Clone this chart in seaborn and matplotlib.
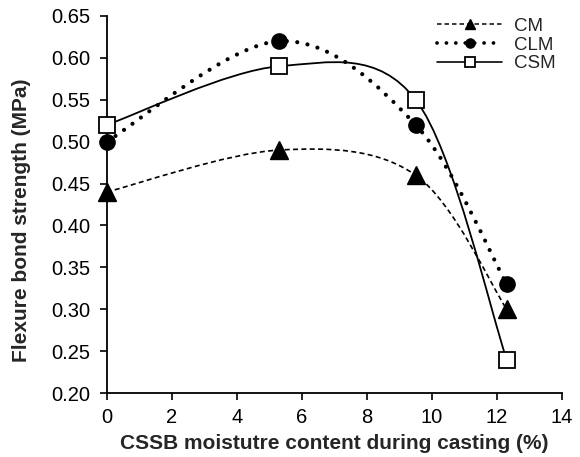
"""Flexure bond strength vs CSSB moisture content."""

import numpy as np
import matplotlib
matplotlib.use("Agg")
import matplotlib.pyplot as plt
import seaborn as sns
from matplotlib.path import Path
from matplotlib.patches import PathPatch
from matplotlib.lines import Line2D
from matplotlib.ticker import FormatStrFormatter

# data
moisture = [0, 5.3, 9.5, 12.3]
cm = [0.44, 0.49, 0.46, 0.30]
clm = [0.50, 0.62, 0.52, 0.33]
csm = [0.52, 0.59, 0.55, 0.24]
labels = ["CM", "CLM", "CSM"]


def smooth_path(xs, ys):
    # Excel-style smoothed line: Catmull-Rom converted to cubic Bezier segments
    pts = np.column_stack([xs, ys]).astype(float)
    ext = np.vstack([pts[0], pts, pts[-1]])
    verts = [pts[0]]
    codes = [Path.MOVETO]
    for i in range(1, len(ext) - 2):
        p0, p1, p2, p3 = ext[i - 1], ext[i], ext[i + 1], ext[i + 2]
        verts += [p1 + (p2 - p0) / 6, p2 - (p3 - p1) / 6, p2]
        codes += [Path.CURVE4] * 3
    return Path(verts, codes)


sns.set_style("ticks")
plt.rcParams["font.family"] = ["Liberation Sans", "DejaVu Sans"]

fig = plt.figure(figsize=(5.8, 4.57), dpi=100)
ax = fig.add_axes([0.184, 0.140, 0.785, 0.825])

styles = [
    dict(ls=(0, (3.0, 2.0)), lw=1.2, marker="^", ms=13, mfc="black", mew=1.0, cap="butt"),
    dict(ls=(0, (0.01, 2.5)), lw=3.0, marker="o", ms=11, mfc="black", mew=1.0, cap="round"),
    dict(ls="-", lw=1.3, marker="s", ms=11.5, mfc="white", mew=1.3, cap="butt"),
]

for ys, st in zip([cm, clm, csm], styles):
    patch = PathPatch(smooth_path(moisture, ys), facecolor="none", edgecolor="black",
                      linewidth=st["lw"], linestyle=st["ls"], capstyle=st["cap"], zorder=2)
    ax.add_patch(patch)
    sns.lineplot(x=moisture, y=ys, ax=ax, linestyle="", marker=st["marker"],
                 markersize=st["ms"], markerfacecolor=st["mfc"], markeredgecolor="black",
                 markeredgewidth=st["mew"], color="black", zorder=3, legend=False,
                 clip_on=False)

handles = [
    Line2D([], [], color="black", linestyle=st["ls"], linewidth=st["lw"] * 0.9,
           marker=st["marker"], markersize=st["ms"] * 0.6,
           markerfacecolor=st["mfc"], markeredgecolor="black",
           markeredgewidth=st["mew"], dash_capstyle=st["cap"])
    for st in styles
]
ax.legend(handles, labels, loc="upper right", bbox_to_anchor=(0.985, 0.995),
          frameon=False, fontsize=13.5, handlelength=3.5, handletextpad=0.6,
          labelspacing=0.08, numpoints=1, borderaxespad=0, borderpad=0)

ax.set_xlim(0, 14)
ax.set_ylim(0.20, 0.65)
ax.set_xticks(np.arange(0, 15, 2))
ax.set_yticks(np.arange(0.20, 0.651, 0.05))
ax.yaxis.set_major_formatter(FormatStrFormatter("%.2f"))
ax.tick_params(axis="both", direction="out", length=5, width=1.2, labelsize=14.5,
               colors="black")
ax.tick_params(axis="y", pad=7)
ax.tick_params(axis="x", pad=5.5)
for side in ["left", "bottom"]:
    ax.spines[side].set_linewidth(1.3)
    ax.spines[side].set_color("black")
sns.despine(ax=ax)

ax.set_xlabel("CSSB moistutre content during casting (%)", fontsize=15,
              fontweight="bold", labelpad=5)
ax.set_ylabel("Flexure bond strength (MPa)", fontsize=15, fontweight="bold")
ax.yaxis.set_label_coords(-0.167, 0.459)

fig.savefig("out.png", dpi=100)
